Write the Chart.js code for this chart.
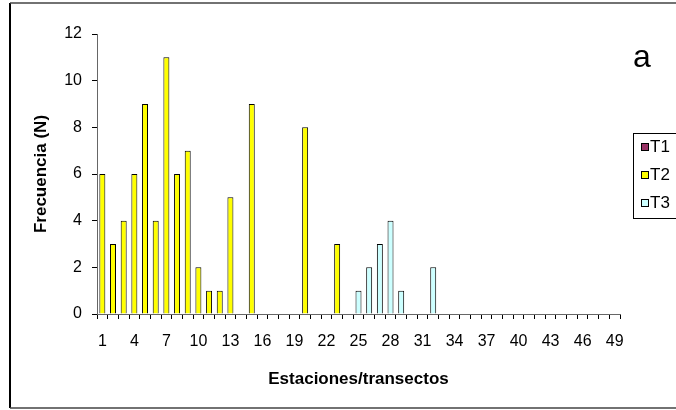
<!DOCTYPE html>
<html>
<head>
<meta charset="utf-8">
<script src="https://cdn.jsdelivr.net/npm/chart.js@4.4.1/dist/chart.umd.min.js"></script>
<style>
  html, body { margin: 0; padding: 0; background: #fff; }
  #wrap { width: 676px; height: 410px; }
</style>
</head>
<body>
<div id="wrap"><canvas id="freqChart" width="676" height="410"></canvas></div>
<script>
// estaciones / transectos 1..49
const estaciones = ['1','2','3','4','5','6','7','8','9','10','11','12','13','14','15','16','17','18','19','20',
  '21','22','23','24','25','26','27','28','29','30','31','32','33','34','35','36','37','38','39','40',
  '41','42','43','44','45','46','47','48','49'];

// T1 has no counts in the figure
const t1 = [];
const t2 = [6, 3, 4, 6, 9, 4, 11, 6, 7, 2, 1, 1, 5, null, 9, null, null, null, null, 8,
  null, null, 3, null, null, null, null, null, null, null, null, null, null, null, null, null, null, null, null, null,
  null, null, null, null, null, null, null, null, null];
const t3 = [null, null, null, null, null, null, null, null, null, null, null, null, null, null, null, null, null, null, null, null,
  null, null, null, null, 1, 2, 3, 4, 1, null, null, 2, null, null, null, null, null, null, null, null,
  null, null, null, null, null, null, null, null, null];

const yTicks = [0, 2, 4, 6, 8, 10, 12];

const FONT = "'Liberation Sans', Arial, sans-serif";

// frame, panel letter and legend, drawn like the original sheet
const decor = {
  id: 'decor',
  afterDraw(chart) {
    const ctx = chart.ctx;
    ctx.save();
    ctx.strokeStyle = '#000';
    ctx.lineWidth = 2;
    ctx.beginPath();
    ctx.moveTo(10, 3); ctx.lineTo(10, 408);
    ctx.stroke();
    ctx.strokeStyle = '#444';
    ctx.lineWidth = 1.5;
    ctx.beginPath();
    ctx.moveTo(10, 3); ctx.lineTo(676, 3);
    ctx.moveTo(10, 408); ctx.lineTo(676, 408);
    ctx.stroke();

    ctx.fillStyle = '#000';
    ctx.font = '32px ' + FONT;
    ctx.textBaseline = 'alphabetic';
    ctx.fillText('a', 633, 67);

    // legend box
    ctx.strokeStyle = '#000';
    ctx.lineWidth = 1;
    ctx.strokeRect(633.5, 133.5, 80, 85);
    ctx.font = '17px ' + FONT;
    ctx.textBaseline = 'middle';
    chart.data.datasets.forEach((ds, i) => {
      const y = 147 + i * 28;
      ctx.fillStyle = ds.backgroundColor;
      ctx.fillRect(641, y - 4, 7, 7);
      ctx.strokeStyle = '#000';
      ctx.strokeRect(641.5, y - 3.5, 7, 7);
      ctx.fillStyle = '#000';
      ctx.fillText(ds.label, 650, y);
    });
    ctx.restore();
  }
};

new Chart(document.getElementById('freqChart').getContext('2d'), {
  type: 'bar',
  data: {
    labels: estaciones,
    datasets: [
      { label: 'T1', data: t1, backgroundColor: '#993366', borderColor: '#000', borderWidth: 1 },
      { label: 'T2', data: t2, backgroundColor: '#FFFF00', borderColor: '#000', borderWidth: 1 },
      { label: 'T3', data: t3, backgroundColor: '#CCFFFF', borderColor: '#000', borderWidth: 1 }
    ]
  },
  options: {
    responsive: false,
    animation: false,
    events: [],
    grouped: false,
    categoryPercentage: 1,
    barPercentage: 0.56,
    layout: { padding: { left: 10, right: 56, top: 34, bottom: 0 } },
    plugins: {
      legend: { display: false },
      tooltip: { enabled: false }
    },
    scales: {
      x: {
        offset: true,
        grid: { offset: true, drawOnChartArea: false, drawTicks: true, tickLength: 5, color: '#000' },
        border: { display: true, color: '#666', width: 1 },
        ticks: {
          autoSkip: false, maxRotation: 0, minRotation: 0, padding: 13,
          color: '#000', font: { family: FONT, size: 16 },
          callback: function (value, index) { return index % 3 === 0 ? estaciones[index] : ''; }
        },
        title: {
          display: true, text: 'Estaciones/transectos', color: '#000',
          font: { family: FONT, size: 17, weight: 'bold' },
          padding: { top: 0, bottom: 20 }
        },
        afterFit: function (scale) { scale.height = 96; }
      },
      y: {
        min: 0, max: 12,
        afterBuildTicks: function (scale) { scale.ticks = yTicks.map(v => ({ value: v })); },
        grid: { drawOnChartArea: false, drawTicks: true, tickLength: 5, color: '#000' },
        border: { display: true, color: '#666', width: 1 },
        ticks: { padding: 10, color: '#000', font: { family: FONT, size: 16 } },
        title: {
          display: true, text: 'Frecuencia (N)', color: '#000',
          font: { family: FONT, size: 17, weight: 'bold' },
          padding: { top: 21, bottom: 0 }
        },
        afterFit: function (scale) { scale.width = 87; }
      }
    }
  },
  plugins: [decor]
});
</script>
</body>
</html>
